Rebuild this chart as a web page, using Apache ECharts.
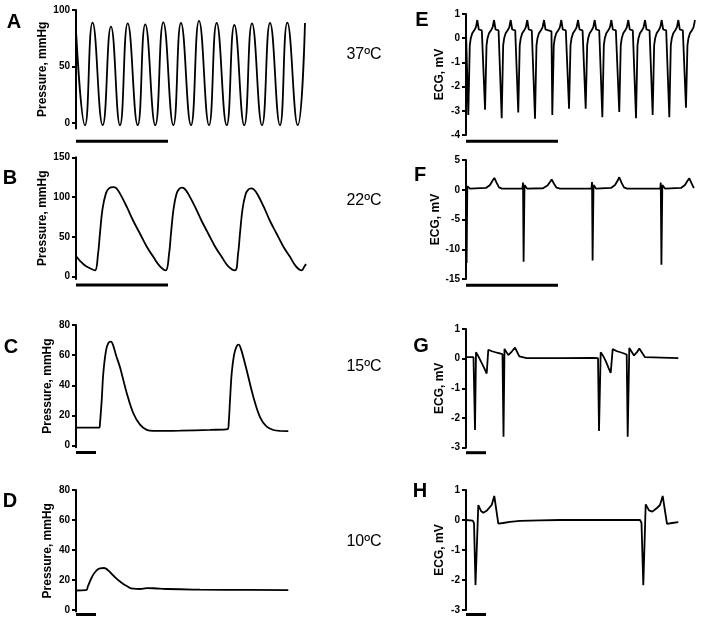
<!DOCTYPE html>
<html>
<head>
<meta charset="utf-8">
<script src="https://cdn.jsdelivr.net/npm/echarts@6/dist/echarts.min.js"></script>
<style>
    html, body { margin: 0; padding: 0; background: #fff; }
    #chart { width: 702px; height: 619px; }
</style>
</head>
<body>
<div id="chart"></div>
<script>
// time in seconds, scale bar = 1 s
// A: pressure at 37ºC (peaks / troughs)
const pressure37 = [
    [0, 82], [0.098, -2], [0.18, 88.8], [0.29, -2], [0.38, 85.3], [0.478, -2],
    [0.562, 88.2], [0.671, -2], [0.753, 87.3], [0.862, -2], [0.949, 89.1], [1.058, -2],
    [1.141, 88.5], [1.25, -2], [1.337, 90.3], [1.446, -2], [1.529, 88.5], [1.638, -2],
    [1.721, 86.7], [1.829, -2], [1.913, 88.2], [2.022, -2], [2.109, 88.5], [2.217, -2],
    [2.297, 88.8], [2.41, -2], [2.489, 88.5]
];

// B: pressure at 22ºC
const pressure22 = [
    [0, 26], [0.043, 20], [0.098, 14], [0.163, 10], [0.207, 8], [0.239, 28], [0.261, 55],
    [0.288, 85], [0.326, 105], [0.359, 111], [0.405, 112.5], [0.44, 111], [0.48, 104],
    [0.551, 88], [0.623, 70], [0.696, 54], [0.768, 38], [0.84, 25], [0.913, 13], [0.975, 8],
    [1.011, 28], [1.033, 55], [1.06, 85], [1.092, 104], [1.12, 110], [1.149, 112],
    [1.18, 110.5], [1.22, 104], [1.293, 88], [1.366, 70], [1.438, 54], [1.511, 38],
    [1.583, 25], [1.655, 13], [1.728, 8], [1.761, 28], [1.783, 55], [1.81, 85], [1.842, 103],
    [1.87, 109], [1.902, 111], [1.935, 109.5], [1.975, 103], [2.04, 88], [2.109, 70],
    [2.181, 54], [2.253, 38], [2.326, 25], [2.391, 13], [2.453, 8], [2.478, 12], [2.5, 16]
];

// C: pressure at 15ºC
const pressure15 = [
    [0, 12], [1.165, 12], [1.2, 15], [1.285, 30], [1.365, 48], [1.5, 63], [1.615, 68],
    [1.75, 69], [1.87, 66], [2.0, 60], [2.2, 52], [2.535, 35], [2.865, 21.5], [3.2, 14],
    [3.535, 10.5], [3.865, 9.8], [5.2, 10], [6.7, 10.5], [7.585, 11], [7.635, 15], [7.7, 30],
    [7.785, 48], [7.9, 60], [8.035, 66], [8.135, 67], [8.25, 64], [8.38, 58], [8.535, 50],
    [8.865, 32.5], [9.2, 19], [9.535, 12.6], [9.865, 10.4], [10.2, 9.8], [10.615, 9.7]
];

// D: pressure at 10ºC
const pressure10 = [
    [0, 13], [0.5, 13.2], [0.6, 16], [0.8, 22], [1.0, 26], [1.2, 27.8], [1.4, 28],
    [1.6, 26.5], [1.865, 23], [2.2, 19], [2.535, 16], [2.865, 14.2], [3.2, 14],
    [3.535, 14.6], [3.865, 14.5], [4.535, 14], [6.2, 13.6], [8.7, 13.4], [10.615, 13.3]
];

// E: ECG at 37ºC, spike times / depths and one beat
const ecg37Spikes = [0.025, 0.207, 0.388, 0.568, 0.75, 0.938, 1.12, 1.301, 1.482, 1.666, 1.848, 2.029, 2.21, 2.391];
const ecg37Depths = [-3.17, -2.96, -3.31, -3.07, -3.33, -3.17, -2.91, -2.91, -3.27, -3.05, -3.31, -3.17, -3.27, -2.87];
const ecg37Beat = [
    [-0.009, 0.28], [0, null], [0.016, -0.3], [0.027, 0.0], [0.043, 0.2], [0.065, 0.33],
    [0.082, 0.45], [0.098, 0.75], [0.114, 0.36], [0.147, 0.32], [0.168, 0.28]
];

// F: ECG at 22ºC
const ecg22 = [
    [0, 0.8], [0.007, -12.3], [0.014, 0.6], [0.043, 0.2], [0.217, 0.3], [0.261, 0.8],
    [0.288, 1.5], [0.308, 2.0], [0.332, 1.2], [0.359, 0.4], [0.391, 0.2], [0.614, 0.2],
    [0.62, 1.2], [0.626, -12.1], [0.636, 0.8], [0.663, 0.2], [0.837, 0.25], [0.886, 0.7],
    [0.913, 1.3], [0.931, 1.72], [0.957, 1.0], [0.984, 0.35], [1.022, 0.2], [1.364, 0.2],
    [1.37, 1.3], [1.376, -11.9], [1.386, 0.8], [1.413, 0.2], [1.576, 0.3], [1.62, 0.8],
    [1.647, 1.5], [1.666, 2.1], [1.69, 1.2], [1.717, 0.4], [1.75, 0.2], [2.112, 0.2],
    [2.117, 1.2], [2.124, -12.6], [2.134, 0.8], [2.163, 0.2], [2.337, 0.3], [2.38, 0.8],
    [2.408, 1.5], [2.427, 1.93], [2.451, 1.1], [2.473, 0.4], [2.478, 0.3]
];

// G: ECG at 15ºC
const ecg15 = [
    [0, 0.05], [0.375, 0.05], [0.425, 0.0], [0.45, -2.4], [0.5, 0.22], [0.6, 0.1],
    [0.75, -0.1], [0.9, -0.3], [1.035, -0.5], [1.115, 0.3], [1.3, 0.25], [1.55, 0.2],
    [1.825, 0.15], [1.875, -2.63], [1.925, 0.33], [2.115, 0.12], [2.3, 0.25], [2.45, 0.37],
    [2.665, 0.08], [3.035, 0.02], [4.7, 0.02], [6.315, 0.03], [6.6, 0.02], [6.65, -2.44],
    [6.735, 0.22], [6.85, 0.1], [7.0, -0.1], [7.12, -0.3], [7.235, -0.48], [7.335, 0.32],
    [7.55, 0.25], [7.8, 0.2], [8.035, 0.14], [8.085, -2.63], [8.165, 0.36], [8.4, 0.11],
    [8.55, 0.22], [8.665, 0.34], [8.95, 0.05], [10.615, 0.02]
];

// H: ECG at 10ºC
const ecg10 = [
    [0, 0], [0.335, -0.02], [0.4, -0.1], [0.475, -2.17], [0.615, 0.5], [0.75, 0.3],
    [0.865, 0.24], [1.05, 0.32], [1.285, 0.5], [1.415, 0.8], [1.615, -0.12], [1.85, -0.1],
    [2.2, -0.06], [2.7, -0.03], [3.7, -0.01], [4.7, 0], [8.7, 0], [8.775, -0.1],
    [8.865, -2.17], [8.985, 0.52], [9.15, 0.32], [9.315, 0.28], [9.55, 0.4], [9.7, 0.5],
    [9.835, 0.8], [10.05, -0.13], [10.3, -0.1], [10.615, -0.07]
];

const panelLetters = ['A', 'B', 'C', 'D', 'E', 'F', 'G', 'H'];
const temperatures = ['37ºC', '22ºC', '15ºC', '10ºC'];
const pressureTicksA = [0, 50, 100];
const pressureTicksB = [0, 50, 100, 150];
const pressureTicksCD = [0, 20, 40, 60, 80];
const ecgTicksE = [-4, -3, -2, -1, 0, 1];
const ecgTicksF = [-15, -10, -5, 0, 5];
const ecgTicksGH = [-3, -2, -1, 0, 1];

// build E trace from the beats
let ecg37 = [[0, 0.3]];
ecg37Spikes.forEach(function (t, k) {
    ecg37Beat.forEach(function (p) {
        let x = t + p[0];
        if (x >= 0 && x <= 2.5) {
            ecg37.push([+x.toFixed(3), p[1] === null ? ecg37Depths[k] : p[1]]);
        }
    });
});

const FONT = '"Liberation Sans", Arial, sans-serif';

let panels = [
    {data: pressure37, min: -5, max: 100, ticks: pressureTicksA, left: 76, top: 10, height: 118.6, xMax: 2.5, name: 'Pressure, mmHg', nameGap: 27, smooth: 0.5, barGap: 12.7},
    {data: pressure22, min: -3, max: 150, ticks: pressureTicksB, left: 76, top: 157.3, height: 121.8, xMax: 2.5, name: 'Pressure, mmHg', nameGap: 27, smooth: 0.4, barGap: 6},
    {data: pressure15, min: -1, max: 80, ticks: pressureTicksCD, left: 76, top: 325, height: 122.2, xMax: 11.5, name: 'Pressure, mmHg', nameGap: 22, smooth: 0.35, barGap: 5.3},
    {data: pressure10, min: -1, max: 80, ticks: pressureTicksCD, left: 76, top: 490, height: 121.5, xMax: 11.5, name: 'Pressure, mmHg', nameGap: 22, smooth: 0.5, barGap: 3},
    {data: ecg37, min: -4, max: 1, ticks: ecgTicksE, left: 466, top: 14, height: 121, xMax: 2.5, name: 'ECG, mV', nameGap: 20, smooth: false, barGap: 6.3},
    {data: ecg22, min: -15, max: 5, ticks: ecgTicksF, left: 466, top: 160, height: 119, xMax: 2.5, name: 'ECG, mV', nameGap: 19, smooth: false, barGap: 6.3},
    {data: ecg15, min: -3, max: 1, ticks: ecgTicksGH, left: 466, top: 329, height: 118.7, xMax: 11.5, name: 'ECG, mV', nameGap: 20, smooth: false, barGap: 5},
    {data: ecg10, min: -3, max: 1, ticks: ecgTicksGH, left: 466, top: 490, height: 120, xMax: 11.5, name: 'ECG, mV', nameGap: 20, smooth: false, barGap: 4.5}
];

let chart = echarts.init(document.getElementById('chart'), null, {renderer: 'canvas'});

let option = {
    animation: false,
    backgroundColor: '#fff',
    grid: panels.map(function (p) {
        return {left: p.left, top: p.top, width: 230, height: p.height, containLabel: false};
    }),
    xAxis: panels.map(function (p, i) {
        return {gridIndex: i, type: 'value', min: 0, max: p.xMax, show: false};
    }),
    yAxis: panels.map(function (p, i) {
        return {
            gridIndex: i,
            type: 'value',
            min: p.min,
            max: p.max,
            name: p.name,
            nameLocation: 'middle',
            nameGap: p.nameGap,
            nameTextStyle: {color: '#000', fontFamily: FONT, fontWeight: 'bold', fontSize: 12},
            axisLine: {show: true, onZero: false, lineStyle: {color: '#000', width: 2}},
            axisTick: {show: true, length: 4, customValues: p.ticks, lineStyle: {color: '#000', width: 2}},
            axisLabel: {customValues: p.ticks, color: '#000', fontFamily: FONT, fontWeight: 'bold', fontSize: 10, margin: 6},
            splitLine: {show: false}
        };
    }),
    series: panels.map(function (p, i) {
        return {
            type: 'line',
            xAxisIndex: i,
            yAxisIndex: i,
            data: p.data,
            symbol: 'none',
            smooth: p.smooth,
            lineStyle: {color: '#000', width: 1.8}
        };
    })
};

chart.setOption(option);

// scale bars (1 s) under each axis, letters and temperatures
let graphics = [];
panels.forEach(function (p, i) {
    let a = chart.convertToPixel({gridIndex: i}, [0, p.min]);
    let b = chart.convertToPixel({gridIndex: i}, [1, p.min]);
    graphics.push({
        type: 'line',
        shape: {x1: a[0], y1: a[1] + p.barGap, x2: b[0], y2: b[1] + p.barGap},
        style: {stroke: '#000', lineWidth: 3}
    });
});

let letterPos = [[14, 22], [10, 178], [11, 347], [10, 501], [422, 20], [420, 175], [421, 346], [420, 491]];
panelLetters.forEach(function (l, i) {
    graphics.push({
        type: 'text',
        x: letterPos[i][0], y: letterPos[i][1],
        style: {text: l, fill: '#000', font: 'bold 20px ' + FONT, align: 'center', verticalAlign: 'middle'}
    });
});

let tempY = [55, 201, 367, 542];
temperatures.forEach(function (t, i) {
    graphics.push({
        type: 'text',
        x: 364, y: tempY[i],
        style: {text: t, fill: '#000', font: '16px ' + FONT, align: 'center', verticalAlign: 'middle'}
    });
});

chart.setOption({graphic: graphics});
</script>
</body>
</html>
